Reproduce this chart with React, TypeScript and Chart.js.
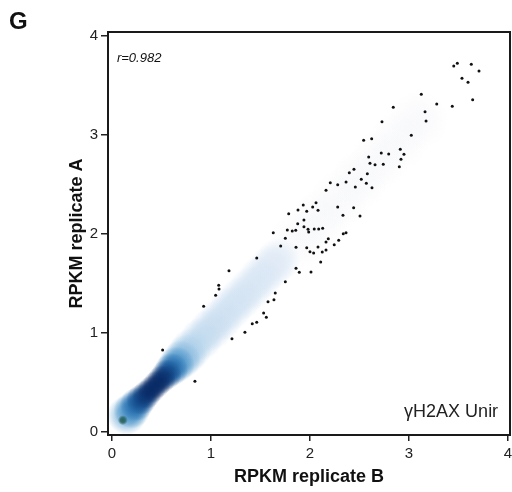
import React, { useEffect, useRef } from "react";
import { Chart, registerables } from "chart.js";

Chart.register(...registerables);

// ---- text ----
const panelLabel = "G";
const xTitle = "RPKM replicate B";
const yTitle = "RPKM replicate A";
const corrLabel = "r=0.982";
const sampleLabel = "γH2AX Unir";

// ---- axes ----
const xTicks = [0, 1, 2, 3, 4];
const yTicks = [0, 1, 2, 3, 4];
const xMin = -0.04;
const xMax = 4.02;
const yMin = -0.03;
const yMax = 4.04;

// ---- annotation anchors (data units) ----
const corrAt = [0.05, 3.74];
const sampleAt = [3.9, 0.15];

// ---- outlier points ----
const outlierX = [
  3.452, 3.488, 3.629, 3.707, 3.535, 3.596, 3.643, 3.124, 3.28, 3.437,
  2.841, 3.162, 3.172, 2.727, 3.023, 2.542, 2.623, 2.912, 2.949, 2.795,
  2.72, 2.593, 2.919, 2.606, 2.657, 2.74, 2.902, 2.444, 2.397, 2.579,
  2.518, 2.364, 2.205, 2.28, 2.569, 2.626, 2.458, 2.162, 2.061, 1.932,
  2.027, 2.28, 2.441, 1.879, 1.967, 2.081, 1.785, 2.333, 2.505, 1.939,
  1.876, 1.939, 1.771, 1.821, 1.856, 1.98, 1.987, 2.043, 2.088, 2.128,
  2.336, 2.364, 1.751, 2.185, 2.29, 2.162, 2.245, 1.704, 1.859, 1.967,
  2.081, 2.0, 2.037, 2.124, 2.162, 2.108, 1.859, 1.892, 2.01, 1.751,
  1.629, 1.462, 1.182, 1.078, 1.081, 1.047, 0.926, 1.649, 1.576, 1.636,
  1.532, 1.559, 1.462, 1.417, 1.343, 1.212, 0.512, 0.838,
];
const outlierY = [
  3.697, 3.724, 3.714, 3.646, 3.573, 3.532, 3.357, 3.411, 3.313, 3.29,
  3.28, 3.235, 3.141, 3.134, 2.997, 2.946, 2.963, 2.856, 2.805, 2.808,
  2.818, 2.778, 2.755, 2.714, 2.7, 2.704, 2.68, 2.654, 2.619, 2.609,
  2.553, 2.525, 2.518, 2.498, 2.512, 2.468, 2.475, 2.441, 2.316, 2.293,
  2.273, 2.273, 2.266, 2.242, 2.229, 2.239, 2.205, 2.189, 2.182, 2.141,
  2.104, 2.074, 2.04, 2.03, 2.037, 2.047, 2.02, 2.051, 2.051, 2.058,
  2.003, 2.013, 1.957, 1.953, 1.936, 1.919, 1.892, 1.879, 1.866, 1.862,
  1.869, 1.821, 1.808, 1.818, 1.838, 1.717, 1.654, 1.613, 1.616, 1.518,
  2.013, 1.758, 1.629, 1.482, 1.444, 1.381, 1.27, 1.404, 1.316, 1.336,
  1.202, 1.159, 1.108, 1.094, 1.007, 0.942, 0.828, 0.512,
];

// ---- smoothed density samples along the diagonal ----
const densityX = [
  0.15, 0.2, 0.25, 0.3, 0.35, 0.4, 0.45, 0.5, 0.55, 0.6, 0.65, 0.7, 0.75,
  0.8, 0.9, 1.0, 1.1, 1.2, 1.3, 1.4, 1.5, 1.6, 1.68,
  1.9, 2.1, 2.3, 2.5, 2.7, 2.9, 3.1,
];
const densityY = [
  0.17, 0.22, 0.28, 0.33, 0.38, 0.43, 0.48, 0.53, 0.58, 0.63, 0.68, 0.73, 0.78,
  0.84, 0.94, 1.04, 1.14, 1.25, 1.35, 1.45, 1.56, 1.66, 1.74,
  1.95, 2.15, 2.35, 2.55, 2.75, 2.95, 3.15,
];
const densityW = [
  0.42, 0.55, 0.7, 0.84, 0.94, 1.0, 1.0, 0.96, 0.86, 0.7, 0.54, 0.42, 0.34,
  0.29, 0.25, 0.23, 0.21, 0.2, 0.19, 0.18, 0.17, 0.15, 0.13,
  0.01, 0.01, 0.01, 0.01, 0.01, 0.01, 0.01,
];

// lowest corner blob
const cornerX = [0.11];
const cornerY = [0.12];

const FONT = "'Liberation Sans', Arial, Helvetica, sans-serif";

const colorStops: [number, number[]][] = [
  [0, [246, 247, 249]],
  [0.15, [224, 234, 246]],
  [0.35, [168, 205, 232]],
  [0.55, [70, 144, 198]],
  [0.75, [24, 92, 160]],
  [1, [8, 42, 102]],
];

function colorFor(w: number): number[] {
  for (let i = 1; i < colorStops.length; i++) {
    const [w1, c1] = colorStops[i];
    const [w0, c0] = colorStops[i - 1];
    if (w <= w1) {
      const t = (w - w0) / (w1 - w0);
      return c0.map((v, k) => Math.round(v + (c1[k] - v) * t));
    }
  }
  return colorStops[colorStops.length - 1][1];
}

function spreadFor(w: number): number {
  if (w < 0.05) return 0.3;
  return 0.14 + 0.1 * (1 - w);
}

function pxPerUnit(chart: any): number {
  const xs = chart.scales && chart.scales.x;
  if (!xs) return 99;
  const d = Math.abs(xs.getPixelForValue(1) - xs.getPixelForValue(0));
  return isFinite(d) && d > 0 ? d : 99;
}

function blobFill(c: any, rgb: number[], radius: number, stops: number[]) {
  const raw = c.raw;
  const chart = c.chart;
  const xs = chart.scales && chart.scales.x;
  const ys = chart.scales && chart.scales.y;
  const flat = `rgba(${rgb[0]},${rgb[1]},${rgb[2]},0.5)`;
  if (!raw || !xs || !ys) return flat;
  const px = xs.getPixelForValue(raw.x);
  const py = ys.getPixelForValue(raw.y);
  if (!isFinite(px) || !isFinite(py) || !isFinite(radius) || radius <= 0) return flat;
  const g = chart.ctx.createRadialGradient(px, py, 0, px, py, radius);
  g.addColorStop(0, `rgba(${rgb[0]},${rgb[1]},${rgb[2]},${stops[0]})`);
  g.addColorStop(0.5, `rgba(${rgb[0]},${rgb[1]},${rgb[2]},${stops[1]})`);
  g.addColorStop(1, `rgba(${rgb[0]},${rgb[1]},${rgb[2]},0)`);
  return g;
}

const framePlugin = {
  id: "frameAndNotes",
  afterDatasetsDraw(chart: any) {
    const { ctx, chartArea } = chart;
    const { left, top, right, bottom } = chartArea;
    const xs = chart.scales.x;
    const ys = chart.scales.y;
    ctx.save();
    ctx.strokeStyle = "#1a1a1a";
    ctx.lineWidth = 2;
    ctx.strokeRect(left, top, right - left, bottom - top);

    ctx.fillStyle = "#111";
    ctx.font = `italic 13px ${FONT}`;
    ctx.textAlign = "left";
    ctx.textBaseline = "alphabetic";
    ctx.fillText(corrLabel, xs.getPixelForValue(corrAt[0]), ys.getPixelForValue(corrAt[1]));

    ctx.font = `18px ${FONT}`;
    ctx.fillStyle = "#222";
    ctx.textAlign = "right";
    ctx.fillText(sampleLabel, xs.getPixelForValue(sampleAt[0]), ys.getPixelForValue(sampleAt[1]));

    ctx.font = `bold 24px ${FONT}`;
    ctx.fillStyle = "#111";
    ctx.textAlign = "left";
    ctx.fillText(panelLabel, 9, 29);
    ctx.restore();
  },
};

export default function App() {
  const ref = useRef<HTMLCanvasElement | null>(null);

  useEffect(() => {
    if (!ref.current) return;

    const order = densityW.map((_, i) => i).sort((a, b) => densityW[a] - densityW[b]);
    const densityData = order.map((i) => ({ x: densityX[i], y: densityY[i], w: densityW[i] }));
    const outlierData = outlierX.map((x, i) => ({ x, y: outlierY[i] }));
    const cornerData = cornerX.map((x, i) => ({ x, y: cornerY[i] }));

    const chart = new Chart(ref.current, {
      type: "scatter",
      data: {
        datasets: [
          {
            label: "density",
            data: densityData as any,
            order: 3,
            pointBorderWidth: 0,
            pointRadius: (c: any) => {
              const raw = c.raw;
              if (!raw) return 0;
              return spreadFor(raw.w) * pxPerUnit(c.chart);
            },
            pointBackgroundColor: (c: any) => {
              const raw = c.raw;
              if (!raw) return "rgba(0,0,0,0)";
              const a = raw.w < 0.05 ? [0.6, 0.4] : [1, 0.75];
              return blobFill(c, colorFor(raw.w), spreadFor(raw.w) * pxPerUnit(c.chart), a);
            },
          } as any,
          {
            label: "corner",
            data: cornerData,
            order: 2,
            pointBorderWidth: 0,
            pointRadius: 5,
            pointBackgroundColor: (c: any) => blobFill(c, [40, 100, 95], 5, [1, 0.85]),
          } as any,
          {
            label: "points",
            data: outlierData,
            order: 1,
            pointRadius: 1.5,
            pointBorderWidth: 0,
            pointBackgroundColor: "#111",
          },
        ],
      },
      options: {
        responsive: false,
        animation: false,
        events: [],
        layout: { autoPadding: false, padding: { left: 0, top: 32, right: 2, bottom: 0 } },
        plugins: {
          legend: { display: false },
          tooltip: { enabled: false },
        },
        scales: {
          x: {
            type: "linear",
            min: xMin,
            max: xMax,
            afterBuildTicks: (s: any) => {
              s.ticks = xTicks.map((v) => ({ value: v }));
            },
            afterFit: (s: any) => {
              s.height = 57;
              s.paddingLeft = 0;
              s.paddingRight = 0;
            },
            grid: {
              drawOnChartArea: false,
              drawTicks: true,
              tickLength: 6,
              tickColor: "#222",
              lineWidth: 1.5,
            },
            border: { display: false },
            ticks: {
              color: "#222",
              padding: 4,
              maxRotation: 0,
              font: { family: FONT, size: 15 },
              callback: (v: any) => String(v),
            },
            title: {
              display: true,
              text: xTitle,
              color: "#111",
              font: { family: FONT, size: 18, weight: "bold" },
              padding: { top: 4, bottom: 4 },
            },
          },
          y: {
            type: "linear",
            min: yMin,
            max: yMax,
            afterBuildTicks: (s: any) => {
              s.ticks = yTicks.map((v) => ({ value: v }));
            },
            afterFit: (s: any) => {
              s.width = 108;
              s.paddingTop = 0;
              s.paddingBottom = 0;
            },
            grid: {
              drawOnChartArea: false,
              drawTicks: true,
              tickLength: 7,
              tickColor: "#222",
              lineWidth: 1.5,
            },
            border: { display: false },
            ticks: {
              color: "#222",
              padding: 3,
              font: { family: FONT, size: 15 },
              callback: (v: any) => String(v),
            },
            title: {
              display: true,
              text: yTitle,
              color: "#111",
              font: { family: FONT, size: 18, weight: "bold" },
              padding: { top: 66, bottom: 4 },
            },
          },
        },
      },
      plugins: [framePlugin],
    });

    return () => chart.destroy();
  }, []);

  return (
    <div style={{ position: "absolute", left: 0, top: 0, width: 512, height: 492, background: "#fff" }}>
      <canvas ref={ref} width={512} height={492} style={{ display: "block" }} />
    </div>
  );
}
